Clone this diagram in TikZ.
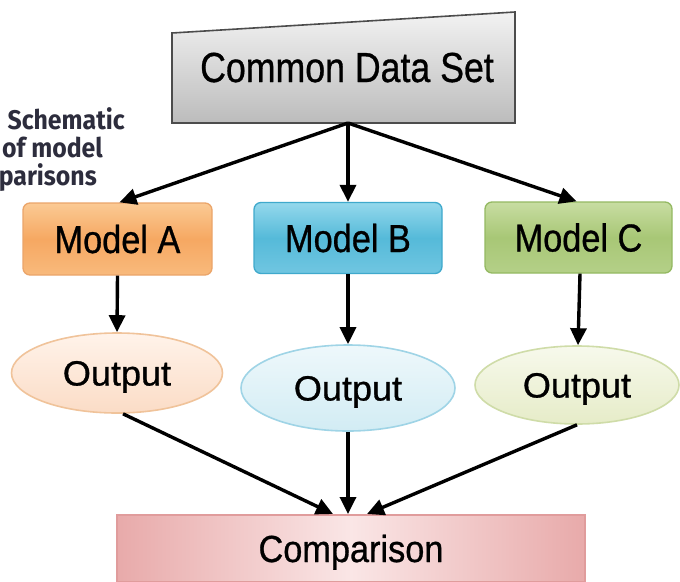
\documentclass[tikz,border=0pt]{standalone}
\usepackage{fontspec}
\setmainfont{Liberation Sans}[FakeBold=0.8]
\newfontfamily\capfont{Fira Sans}
\usetikzlibrary{arrows.meta,shapes.geometric}
\definecolor{capcol}{HTML}{2D2D3D}
\definecolor{oraT}{HTML}{FBCA94}
\definecolor{oraM}{HTML}{F6A862}
\definecolor{oraB}{HTML}{F8BA7C}
\definecolor{oraD}{HTML}{EBA56A}
\definecolor{bluT}{HTML}{94D8EC}
\definecolor{bluM}{HTML}{55BAD9}
\definecolor{bluB}{HTML}{70C6E1}
\definecolor{bluD}{HTML}{3FA9CC}
\definecolor{grnT}{HTML}{C8DDA2}
\definecolor{grnM}{HTML}{A8C776}
\definecolor{grnB}{HTML}{B4D088}
\definecolor{grnD}{HTML}{94B962}
\definecolor{oAT}{HTML}{FFF3EA}
\definecolor{oAB}{HTML}{FBDCC6}
\definecolor{oAD}{HTML}{F0C39A}
\definecolor{oBT}{HTML}{EEF8FB}
\definecolor{oBB}{HTML}{D2ECF4}
\definecolor{oBD}{HTML}{9FD4E6}
\definecolor{oCT}{HTML}{F7F9EC}
\definecolor{oCB}{HTML}{E6ECC8}
\definecolor{oCD}{HTML}{CFDCA8}
\definecolor{cmpE}{HTML}{E8AAAA}
\definecolor{cmpM}{HTML}{FAE6E6}
\definecolor{cmpD}{HTML}{E09C9C}
\definecolor{cdsT}{HTML}{F2F2F2}
\definecolor{cdsB}{HTML}{BCBCBC}
\definecolor{cdsD}{HTML}{4C4C4C}
\newcommand\hsc[2]{\scalebox{#1}[1]{#2}}
\begin{document}
\begin{tikzpicture}[x=1pt,y=-1pt,
  modelbox/.style={draw, rounded corners=7pt, minimum width=188pt, minimum height=71pt,
    inner sep=0pt, line width=1.3pt, font=\fontsize{39}{44}\selectfont,
    text height=28pt, text depth=0pt},
  outbox/.style={ellipse, draw, line width=1.6pt, inner sep=0pt,
    font=\fontsize{35}{40}\selectfont, text height=25pt, text depth=0pt},
  arr/.style={line width=3.4pt, -{Triangle[length=17pt,width=16pt]}},
  captxt/.style={font=\capfont\bfseries\fontsize{27}{30}\selectfont, text=capcol, inner sep=0pt}
]
\useasboundingbox (0,0) rectangle (680,581);
\clip (0,0) rectangle (680,581);
\fill[white] (0,0) rectangle (680,581);

% caption fragment
\node[captxt, anchor=base east] (cap1) at (125,129) {\hsc{0.92}{. Schematic}};
\node[captxt, anchor=base east] (cap2) at (103,157) {\hsc{0.92}{of model}};
\node[captxt, anchor=base east] (cap3) at (97,185) {\hsc{0.92}{parisons}};

% common data set
\path[draw=cdsD, line width=1.6pt, top color=cdsT, bottom color=cdsB]
  (172,33) -- (515,12) -- (515,123) -- (172,123) -- cycle;
\node[font=\fontsize{42}{48}\selectfont, text height=30pt, text depth=0pt, inner sep=0pt]
  (cds) at (347,67) {\hsc{0.85}{Common Data Set}};
\coordinate (cdsb) at (348,123);

% models
\node[modelbox, draw=oraD, top color=oraT, bottom color=oraB, middle color=oraM,
  minimum width=189pt, minimum height=72pt] (ma) at (117.5,239) {\hsc{0.88}{Model A}};
\node[modelbox, draw=bluD, top color=bluT, bottom color=bluB, middle color=bluM]
  (mb) at (348,238) {\hsc{0.88}{Model B}};
\node[modelbox, draw=grnD, top color=grnT, bottom color=grnB, middle color=grnM,
  minimum width=187pt] (mc) at (578.5,237.5) {\hsc{0.88}{Model C}};

% outputs
\node[outbox, draw=oAD, top color=oAT, bottom color=oAB,
  minimum width=211pt, minimum height=80pt] (oa) at (117,373) {\hsc{1.03}{Output}};
\node[outbox, draw=oBD, top color=oBT, bottom color=oBB,
  minimum width=214pt, minimum height=86pt] (ob) at (348,388) {\hsc{1.03}{Output}};
\node[outbox, draw=oCD, top color=oCT, bottom color=oCB,
  minimum width=204pt, minimum height=78pt] (oc) at (577,385) {\hsc{1.03}{Output}};

% comparison
\node[draw=cmpD, line width=2pt, left color=cmpE, right color=cmpE, middle color=cmpM,
  minimum width=468pt, minimum height=67pt, inner sep=0pt,
  font=\fontsize{37.7}{42}\selectfont, text height=27pt, text depth=0pt]
  (cmp) at (351,548.5) {\hsc{0.91}{Comparison}};

% connectors
\draw[arr] (cdsb) -- ([xshift=2pt]ma.north);
\draw[arr] (cdsb) -- (mb.north);
\draw[arr] (cdsb) -- ([xshift=-2pt]mc.north);
\draw[arr] (ma.south) -- (oa.north);
\draw[arr] (mb.south) -- (ob.north);
\draw[arr] ([xshift=1.5pt]mc.south) -- ([xshift=1pt]oc.north);
\draw[arr] ([xshift=6pt]oa.south) -- ([xshift=-18pt]cmp.north);
\draw[arr] (ob.south) -- ([xshift=-3pt]cmp.north);
\draw[arr] (oc.south) -- ([xshift=16pt]cmp.north);
\end{tikzpicture}
\end{document}
